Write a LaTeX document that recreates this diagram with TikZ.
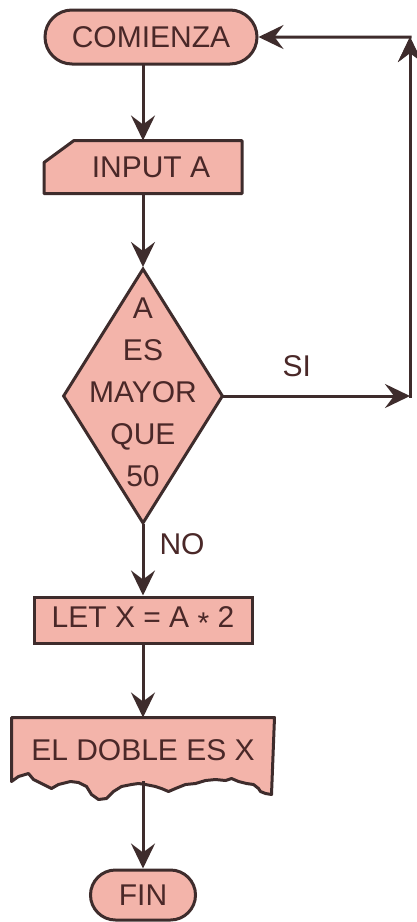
\documentclass[tikz,border=0pt]{standalone}
\usepackage{fontspec}
\setmainfont{Liberation Sans}
\usetikzlibrary{arrows.meta,shapes.geometric,shapes.misc,backgrounds}

\definecolor{boxfill}{RGB}{243,180,170}
\definecolor{boxline}{RGB}{62,44,44}
\definecolor{boxtext}{RGB}{74,40,40}

\begin{document}
\begin{tikzpicture}[x=1pt,y=1pt,line width=3pt,color=boxline,text=boxtext,
                    font=\fontsize{30}{42}\selectfont,
                    flow/.style={draw=boxline,line width=3pt,line cap=rect,-{Stealth[length=25pt,width=24pt,inset=9pt]}},
                    outline/.style={draw=boxline,fill=boxfill,line width=3pt,line join=round},
                    term node/.style={rounded rectangle,draw,fill=boxfill,minimum height=54pt,inner sep=0pt},
                    io node/.style={rectangle,minimum width=195pt,minimum height=50pt,inner sep=0pt},
                    test node/.style={diamond,draw,fill=boxfill,minimum width=160pt,minimum height=255pt,inner sep=0pt},
                    proc node/.style={rectangle,draw,fill=boxfill,minimum width=218pt,minimum height=46pt,inner sep=0pt},
                    out node/.style={rectangle,minimum width=260pt,minimum height=62pt,inner sep=0pt},
                    tag/.style={inner sep=0pt}]
    \useasboundingbox (0,0) rectangle (417,-922);

    \node[term node,minimum width=212pt] (start) at (151,-37) {COMIENZA};
    \node[io node,node distance=130pt,xshift=-8pt] (input) [below of=start] {\hspace*{16pt}INPUT A};
    \node[test node,node distance=229pt] (dec) [below of=input] {};
    \node[align=center,yshift=4pt] (decText) at (dec) {A\\ES\\MAYOR\\QUE\\50};
    \node[proc node,node distance=224pt] (let) [below of=dec] {LET X = A \raisebox{-0.22em}{*} 2};
    \node[out node,node distance=130pt] (doc) [below of=let] {EL DOBLE ES X};
    \node[term node,minimum width=105pt,minimum height=50pt,node distance=145pt] (fin) [below of=doc] {FIN};

    \coordinate (loopLow) at (410,-396);
    \coordinate (loopHigh) at (410,-37);

    % outlines of the input and output boxes
    \begin{pgfonlayer}{background}
      \fill[white] (0,0) rectangle (417,-922);
      \filldraw[outline] (input.south west) -- ([yshift=-22pt]input.north west)
        -- ([xshift=30pt]input.north west) -- (input.north east) -- (input.south east) -- cycle;
      \filldraw[outline,shift={(doc.south west)}]
        (0,1) -- (7,6) -- (17,9) -- (22,3) -- (30,-1) -- (40,-6) -- (47,-2) -- (59,1) -- (67,0)
        -- (75,-4) -- (80,-12) -- (87,-17) -- (95,-16) -- (102,-9) -- (110,-4) -- (120,-2)
        -- (127,-1) -- (134,-2) -- (144,-4) -- (150,-6) -- (157,-9) -- (164,-6) -- (174,-2)
        -- (184,-1) -- (194,2) -- (204,3) -- (214,2) -- (220,4) -- (227,1) -- (235,-1)
        -- (242,-2) -- (247,-6) -- (249,-9) -- (254,-11) -- (260,-12)
        -- (doc.north east) -- (doc.north west) -- cycle;
    \end{pgfonlayer}

    \path[flow]
      (start.south -| input.north) edge (input)
      (input) edge (dec)
      (dec) edge node[tag,right=15pt,pos=0.27] {NO} (let)
            edge node[tag,above=18pt,pos=0.39] {SI} (loopLow)
      (let) edge (doc)
      (doc) edge (fin)
      (loopLow) edge (loopHigh)
      (loopHigh) edge (start);
\end{tikzpicture}
\end{document}
